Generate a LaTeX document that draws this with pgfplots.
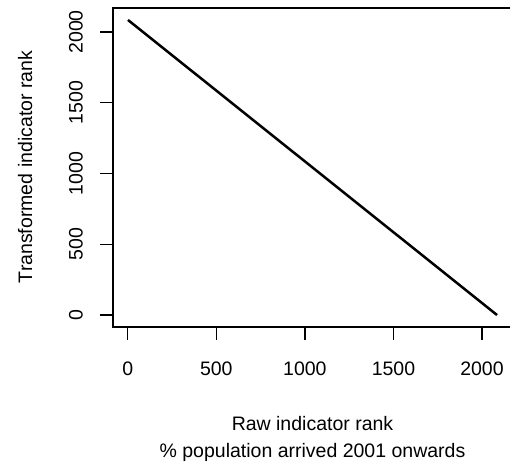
\documentclass[border=0pt]{standalone}
\usepackage{pgfplots}
\pgfplotsset{compat=1.18}
\usepackage{fontspec}
\setmainfont{Liberation Sans}
\begin{document}
\begin{tikzpicture}
  \path[use as bounding box] (0pt,0pt) rectangle (510pt,465pt);
  \clip (0pt,0pt) rectangle (510pt,465pt);
  \begin{axis}[
      at={(113pt,138pt)}, anchor=south west,
      scale only axis,
      width=399pt, height=319pt,
      xmin=-83.4, xmax=2169.4,
      ymin=-83.4, ymax=2169.4,
      xtick={0,500,1000,1500,2000},
      ytick={0,500,1000,1500,2000},
      tick align=outside,
      xtick pos=bottom, ytick pos=left,
      major tick length=13pt,
      axis line style={line width=1.4pt},
      every tick/.style={black, line width=1.4pt},
      tick label style={font=\fontsize{19.5}{22}\selectfont},
      /pgf/number format/assume math mode=true,
      /pgf/number format/1000 sep={},
      xticklabel style={anchor=north, inner sep=0pt, yshift=-22pt},
      % shifts act in the rotated frame: +y moves the label left
      yticklabel style={rotate=90, anchor=south, inner sep=0pt, yshift=17pt},
    ]
    % rank transform is a straight line: raw rank r -> 2086 - r
    \addplot[black, line width=2.5pt] coordinates {
      (1,2085) (500,1586) (1000,1086) (1500,586) (2085,1)
    };
  \end{axis}
  \node[anchor=base, font=\fontsize{19.5}{22}\selectfont] at (312.5pt,35pt) {Raw indicator rank};
  \node[anchor=base, font=\fontsize{19.5}{22}\selectfont] at (312.5pt,8pt) {\% population arrived 2001 onwards};
  \node[anchor=base, rotate=90, font=\fontsize{19.5}{22}\selectfont] at (32pt,298pt) {Transformed indicator rank};
\end{tikzpicture}
\end{document}
